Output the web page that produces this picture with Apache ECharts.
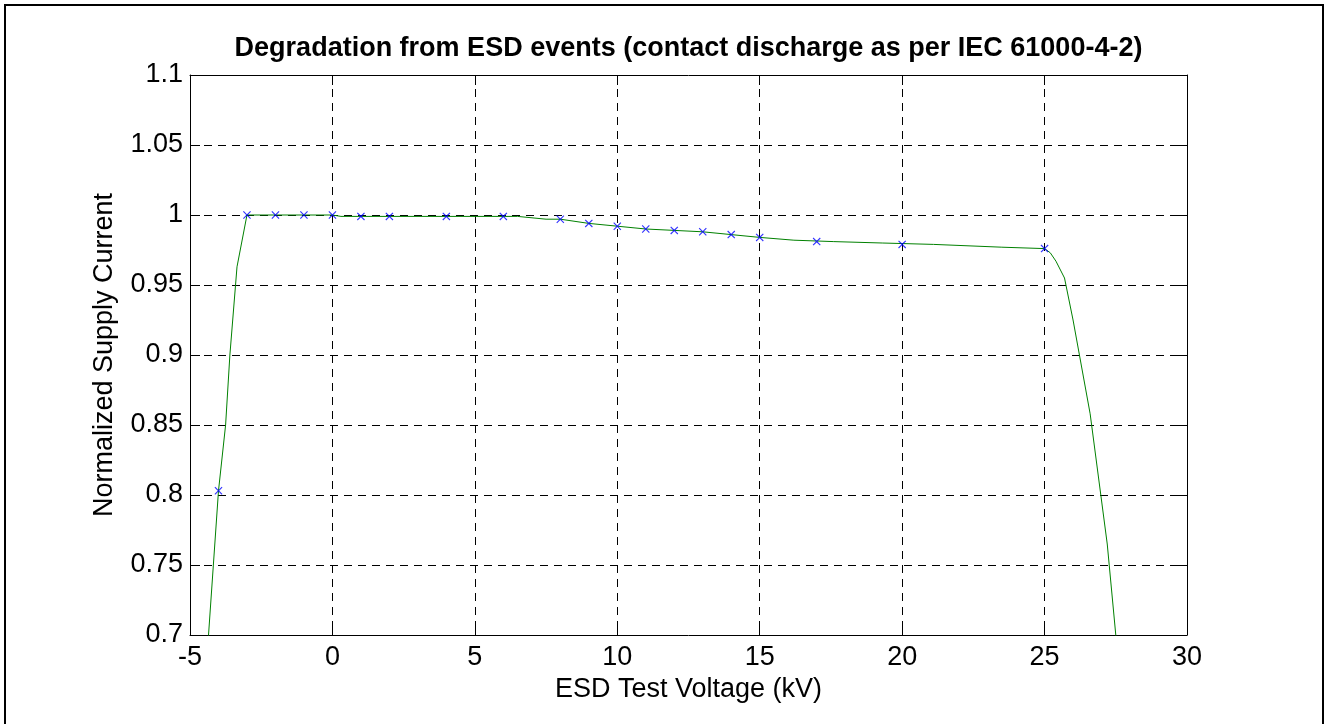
<!DOCTYPE html>
<html>
<head>
<meta charset="utf-8">
<script src="https://cdn.jsdelivr.net/npm/echarts@6/dist/echarts.min.js"></script>
<style>
html,body{margin:0;padding:0;background:#fff;}
#c{width:1329px;height:724px;}
</style>
</head>
<body>
<div id="c"></div>
<script>
// ---- data ----
const titleText = 'Degradation from ESD events (contact discharge as per IEC 61000-4-2)';
const xName = 'ESD Test Voltage (kV)';
const yName = 'Normalized Supply Current';

const xTicks = [-5, 0, 5, 10, 15, 20, 25, 30];
const yTicks = [0.7, 0.75, 0.8, 0.85, 0.9, 0.95, 1, 1.05, 1.1];

// measured points (blue x markers)
const voltage = [-4, -3, -2, -1, 0, 1, 2, 4, 6, 8, 9, 10, 11, 12, 13, 14, 15, 17, 20, 25];
const current = [0.803, 1.000, 1.000, 1.000, 1.000, 0.999, 0.999, 0.999, 0.999, 0.997,
                 0.994, 0.992, 0.990, 0.989, 0.988, 0.986, 0.984, 0.981, 0.979, 0.976];

// green fitted curve
const fitX = [-4.45, -4.35, -4.0, -3.75, -3.6, -3.35, -3.0, 0.0, 0.3, 6.5, 7.5, 8.0, 9.0, 10.0,
              11.0, 12.0, 13.0, 14.0, 15.0, 16.2, 17.6, 19.3, 21.1, 23.5, 25.0, 25.2, 25.4,
              25.7, 26.0, 26.6, 27.2, 27.5, 27.6];
const fitY = [0.670, 0.700, 0.803, 0.850, 0.900, 0.963, 1.000, 1.000, 0.999, 0.999, 0.997, 0.997,
              0.994, 0.992, 0.990, 0.989, 0.988, 0.986, 0.984, 0.982, 0.981, 0.980, 0.979, 0.977,
              0.976, 0.973, 0.967, 0.955, 0.925, 0.858, 0.765, 0.700, 0.680];

// ---- chart ----
const FONT = '"Liberation Sans", Arial, Helvetica, sans-serif';
const FS = 27;
const G = {left: 190, right: 142, top: 75, bottom: 89};
const plotCenterX = G.left + (1329 - G.left - G.right) / 2;

const xMin = xTicks[0], xMax = xTicks[xTicks.length - 1], xInt = xTicks[1] - xTicks[0];
const yMin = yTicks[0], yMax = yTicks[yTicks.length - 1], yInt = 0.05;

const gridStyle = {show: true, lineStyle: {color: '#000', width: 1, type: [8, 6]}};
const boxLine = {show: true, onZero: false, lineStyle: {color: '#000', width: 1}};
const inTick = {show: true, inside: true, length: 10, lineStyle: {color: '#000', width: 1}};

const chart = echarts.init(document.getElementById('c'), null, {renderer: 'canvas'});
chart.setOption({
  animation: false,
  backgroundColor: '#fff',
  title: {
    text: titleText,
    left: plotCenterX - 5,
    textAlign: 'center',
    top: 30,
    textStyle: {fontFamily: FONT, fontSize: FS, fontWeight: 'bold', color: '#000'}
  },
  graphic: [{
    type: 'rect',
    shape: {x: 5, y: 5, width: 1318, height: 730},
    style: {fill: 'none', stroke: '#000', lineWidth: 2},
    silent: true
  }],
  grid: G,
  xAxis: [{
    type: 'value', min: xMin, max: xMax, interval: xInt, position: 'bottom',
    name: xName, nameLocation: 'middle', nameGap: 40,
    nameTextStyle: {fontFamily: FONT, fontSize: FS, color: '#000'},
    axisLine: boxLine, axisTick: inTick, splitLine: gridStyle,
    axisLabel: {fontFamily: FONT, fontSize: FS, color: '#000', margin: 9}
  }, {
    type: 'value', min: xMin, max: xMax, interval: xInt, position: 'top',
    axisLine: boxLine, axisTick: inTick, splitLine: {show: false},
    axisLabel: {show: false}
  }],
  yAxis: [{
    type: 'value', min: yMin, max: yMax, interval: yInt, position: 'left',
    name: yName, nameLocation: 'middle', nameGap: 72,
    nameTextStyle: {fontFamily: FONT, fontSize: FS, color: '#000'},
    axisLine: boxLine, axisTick: inTick, splitLine: gridStyle,
    axisLabel: {fontFamily: FONT, fontSize: FS, color: '#000', margin: 7,
      formatter: v => String(+v.toFixed(2))}
  }, {
    type: 'value', min: yMin, max: yMax, interval: yInt, position: 'right',
    axisLine: boxLine, axisTick: inTick, splitLine: {show: false},
    axisLabel: {show: false}
  }],
  series: [{
    type: 'line',
    xAxisIndex: 0, yAxisIndex: 0,
    data: fitX.map((x, i) => [x, fitY[i]]),
    showSymbol: false, symbol: 'none',
    clip: true,
    lineStyle: {color: '#008000', width: 1},
    z: 3
  }, {
    type: 'scatter',
    xAxisIndex: 0, yAxisIndex: 0,
    data: voltage.map((x, i) => [x, current[i]]),
    symbol: 'path://M0,1L1,0L5,4L9,0L10,1L6,5L10,9L9,10L5,6L1,10L0,9L4,5Z',
    symbolSize: 8,
    itemStyle: {color: '#0000ff'},
    z: 4
  }]
});
</script>
</body>
</html>
